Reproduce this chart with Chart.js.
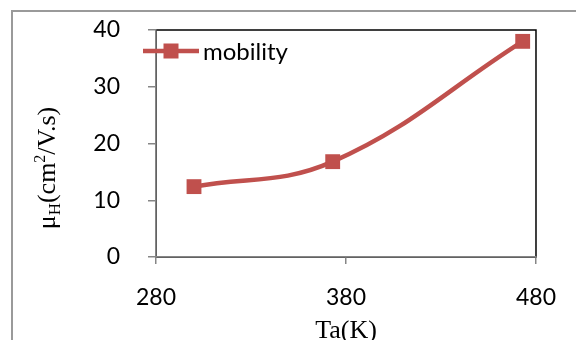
<!DOCTYPE html>
<html>
<head>
<meta charset="utf-8">
<script src="https://cdn.jsdelivr.net/npm/chart.js@4.4.0/dist/chart.umd.js"></script>
<style>
  html, body { margin: 0; padding: 0; background: #fff; }
  #wrap { position: relative; width: 576px; height: 340px; overflow: hidden; }
  #frame { position: absolute; left: 11px; top: 10px; width: 600px; height: 400px;
           border-left: 2px solid #9a9a9a; border-top: 2px solid #9a9a9a; }
  canvas { position: absolute; left: 0; top: 0; }
</style>
</head>
<body>
<div id="wrap">
  <div id="frame"></div>
  <canvas id="chart" width="576" height="340"></canvas>
</div>
<script>
// data
const seriesName = 'mobility';
const annealTemps = [300, 373, 473];      // Ta (K)
const mobility = [12.4, 16.8, 38.0];      // µH (cm²/V.s)
const xTickValues = [280, 380, 480];
const yTickValues = [0, 10, 20, 30, 40];

const red = '#C0504D';
const axisGray = '#868686';
const tickFont = { family: 'Lato', size: 23 };

// plot area outline (black top/right, gray axes drawn on top later)
const plotBorder = {
    id: 'plotBorder',
    beforeDraw(chart) {
        const { ctx, chartArea: a } = chart;
        ctx.save();
        ctx.strokeStyle = '#000';
        ctx.lineWidth = 1.5;
        ctx.strokeRect(a.left, a.top, a.right - a.left, a.bottom - a.top);
        ctx.restore();
    }
};

// axis titles with sub/superscript, Excel style legend
const extras = {
    id: 'extras',
    afterDraw(chart) {
        const { ctx, chartArea: a } = chart;
        ctx.save();
        ctx.fillStyle = '#000';
        ctx.textBaseline = 'alphabetic';

        // x title
        ctx.font = '26px "Liberation Serif"';
        ctx.textAlign = 'center';
        ctx.fillText('Ta(K)', (a.left + a.right) / 2, 338);

        // y title, rotated
        const parts = [
            ['μ', 26, 0], ['H', 17, 5], ['(cm', 26, 0], ['2', 16, -10], ['/V.s)', 26, 0]
        ];
        let total = 0;
        parts.forEach(p => { ctx.font = p[1] + 'px "Liberation Serif"'; total += ctx.measureText(p[0]).width; });
        ctx.translate(55, 168);
        ctx.rotate(-Math.PI / 2);
        ctx.textAlign = 'left';
        let x = -total / 2;
        parts.forEach(p => {
            ctx.font = p[1] + 'px "Liberation Serif"';
            ctx.fillText(p[0], x, p[2]);
            x += ctx.measureText(p[0]).width;
        });
        ctx.restore();

        // legend
        const ds = chart.data.datasets[0];
        const ly = 51;
        ctx.save();
        ctx.strokeStyle = ds.borderColor;
        ctx.lineWidth = ds.borderWidth;
        ctx.beginPath();
        ctx.moveTo(143, ly);
        ctx.lineTo(199, ly);
        ctx.stroke();
        ctx.fillStyle = ds.pointBackgroundColor;
        ctx.fillRect(171 - 7.5, ly - 7.5, 15, 15);
        ctx.fillStyle = '#000';
        ctx.font = '24px Lato';
        ctx.textAlign = 'left';
        ctx.textBaseline = 'middle';
        ctx.fillText(ds.label, 203, ly + 1);
        ctx.restore();
    }
};

new Chart(document.getElementById('chart'), {
    type: 'line',
    data: {
        datasets: [{
            label: seriesName,
            data: annealTemps.map((t, i) => ({ x: t, y: mobility[i] })),
            borderColor: red,
            backgroundColor: red,
            pointBackgroundColor: red,
            pointBorderColor: red,
            borderWidth: 4.5,
            pointStyle: 'rect',
            pointRadius: 10.5,
            pointBorderWidth: 0,
            tension: 0.4,
            fill: false
        }]
    },
    options: {
        responsive: false,
        animation: false,
        events: [],
        layout: { padding: { left: 0, right: 40, top: 30, bottom: 0 } },
        plugins: { legend: { display: false }, tooltip: { enabled: false } },
        scales: {
            x: {
                type: 'linear',
                min: 280, max: 480,
                afterBuildTicks(scale) { scale.ticks = xTickValues.map(v => ({ value: v })); },
                afterFit(scale) { scale.height = 83; },
                grid: { drawOnChartArea: false, drawTicks: true, tickLength: 7, color: axisGray, lineWidth: 1.5 },
                border: { color: axisGray, width: 1.5 },
                ticks: { color: '#000', font: tickFont, padding: 20, maxRotation: 0 }
            },
            y: {
                min: 0, max: 40,
                afterBuildTicks(scale) { scale.ticks = yTickValues.map(v => ({ value: v })); },
                afterFit(scale) {
                    scale.width = 156;
                    scale.paddingTop = 0;
                    scale.paddingBottom = 0;
                },
                grid: { drawOnChartArea: false, drawTicks: true, tickLength: 8, color: axisGray, lineWidth: 1.5 },
                border: { color: axisGray, width: 1.5 },
                ticks: { color: '#000', font: tickFont, padding: 28 }
            }
        }
    },
    plugins: [plotBorder, extras]
});
</script>
</body>
</html>
